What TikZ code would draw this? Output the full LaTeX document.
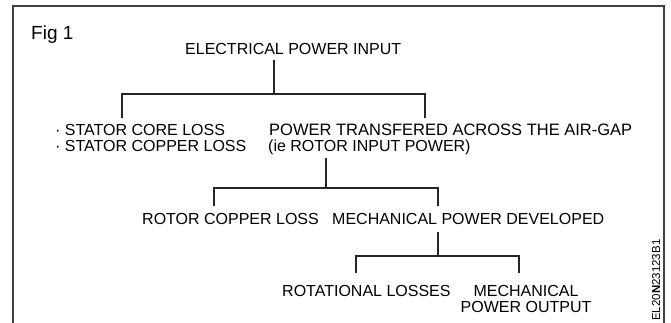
\documentclass[tikz,border=0pt]{standalone}
\usepackage{fontspec}
\setmainfont{Liberation Sans}
\begin{document}
\begin{tikzpicture}[x=1pt,y=-1pt,
  lbl/.style={font=\fontsize{16}{17}\selectfont, inner sep=0pt, anchor=base west},
  conn/.style={line width=1.1pt, black!85},
  frame/.style={line width=1.3pt, black!75}]
\useasboundingbox (0,0) rectangle (671,323);
\fill[white] (0,0) rectangle (671,323);
\draw[frame] (13,323) -- (13,6) -- (664,6) -- (664,323);
\node[font=\fontsize{19}{21}\selectfont, inner sep=0pt, anchor=base west] (fig) at (31,40) {Fig 1};
% texts
\node[lbl] (e) at (185,55) {ELECTRICAL POWER INPUT};
\node[lbl] (s1) at (55,136) {· STATOR CORE LOSS};
\node[lbl] (s2) at (55,152) {· STATOR COPPER LOSS};
\node[lbl, font=\fontsize{16.5}{17}\selectfont] (p1) at (269,136) {POWER TRANSFERED ACROSS THE AIR-GAP};
\node[lbl] (p2) at (268,152) {(ie ROTOR INPUT POWER)};
\node[lbl] (r) at (142,224) {ROTOR COPPER LOSS};
\node[lbl] (m) at (332,224) {MECHANICAL POWER DEVELOPED};
\node[lbl] (rl) at (282,296) {ROTATIONAL LOSSES};
\node[lbl, anchor=base] (mo1) at (526,296) {MECHANICAL};
\node[lbl, anchor=base] (mo2) at (526,312) {POWER OUTPUT};
\node[font=\fontsize{11.5}{12}\selectfont, inner sep=0pt, anchor=base west, rotate=90] (code) at (660,321) {EL20{\bfseries N}23123B1};
% junction coordinates
\coordinate (e-out) at (274,60);
\coordinate (j1) at (274,94);
\coordinate (s-in) at (122,118);
\coordinate (p-in) at (425,118);
\coordinate (p-out) at (326,158);
\coordinate (j2) at (326,188);
\coordinate (r-in) at (214,206);
\coordinate (m-in) at (438,206);
\coordinate (m-out) at (438,232);
\coordinate (j3) at (438,256);
\coordinate (rl-in) at (356,273);
\coordinate (mo-in) at (519,273);
% connectors
\draw[conn] (e-out) -- (j1);
\draw[conn] (s-in) |- (j1) -| (p-in);
\draw[conn] (p-out) -- (j2);
\draw[conn] (r-in) |- (j2) -| (m-in);
\draw[conn] (m-out) -- (j3);
\draw[conn] (rl-in) |- (j3) -| (mo-in);
\end{tikzpicture}
\end{document}
